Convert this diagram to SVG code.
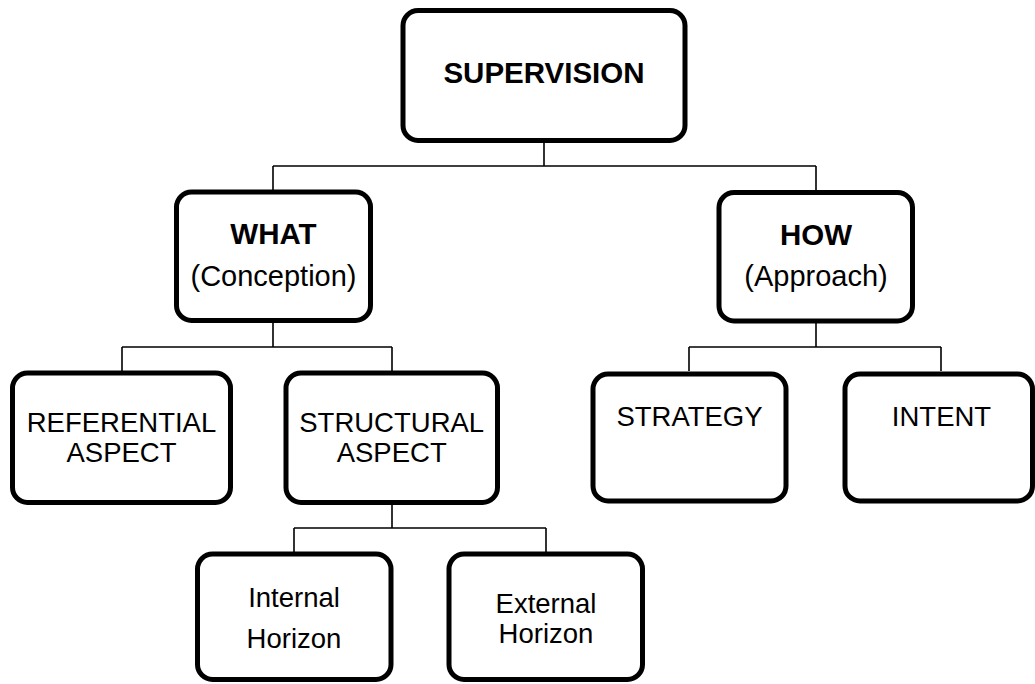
<svg xmlns="http://www.w3.org/2000/svg" width="1035" height="684" viewBox="0 0 1035 684">
<style>
.box{fill:#fff;stroke:#000;stroke-width:5}
.con{fill:none;stroke:#000;stroke-width:1.6}
text{font-family:"Liberation Sans",Arial,sans-serif;font-size:27.5px;text-anchor:middle;fill:#000}
.b{font-weight:bold;font-size:29.5px}
.m{font-size:29px}
</style>
<rect width="1035" height="684" fill="#fff"/>
<g id="connectors">
<path class="con" d="M544 143V166M273 166H816M273 166V190M816 166V190"/>
<path class="con" d="M273 323V347M122 347H392M122 347V371M392 347V371"/>
<path class="con" d="M816 323V347M689 347H941M689 347V371M941 347V371"/>
<path class="con" d="M392 505V528M294 528H546M294 528V552M546 528V552"/>
</g>
<g id="supervision">
<rect class="box" x="403" y="10.5" width="282" height="130" rx="15"/>
<text class="b" x="544" y="83">SUPERVISION</text>
</g>
<g id="what">
<rect class="box" x="176.5" y="192" width="194" height="128.5" rx="15"/>
<text class="b" x="273.5" y="244">WHAT</text>
<text class="m" x="273.5" y="286">(Conception)</text>
</g>
<g id="how">
<rect class="box" x="719" y="192.5" width="193.5" height="128.5" rx="15"/>
<text class="b" x="816" y="245">HOW</text>
<text class="m" x="816" y="286">(Approach)</text>
</g>
<g id="referential">
<rect class="box" x="12.5" y="373" width="218" height="129.5" rx="15"/>
<text x="121.5" y="431.7">REFERENTIAL</text>
<text x="121.5" y="461.7">ASPECT</text>
</g>
<g id="structural">
<rect class="box" x="286" y="373" width="211.5" height="129.5" rx="15"/>
<text x="391.7" y="431.7">STRUCTURAL</text>
<text x="391.7" y="461.7">ASPECT</text>
</g>
<g id="strategy">
<rect class="box" x="593" y="374" width="193" height="127" rx="15"/>
<text x="689.5" y="426">STRATEGY</text>
</g>
<g id="intent">
<rect class="box" x="845" y="374" width="187.5" height="127" rx="15"/>
<text x="941.5" y="426">INTENT</text>
</g>
<g id="internal">
<rect class="box" x="197.5" y="554" width="193.5" height="125.5" rx="15"/>
<text x="294" y="606.7">Internal</text>
<text x="294" y="648.3">Horizon</text>
</g>
<g id="external">
<rect class="box" x="449" y="554" width="193.5" height="125.5" rx="15"/>
<text x="546" y="612.7">External</text>
<text x="546" y="642.7">Horizon</text>
</g>
</svg>
